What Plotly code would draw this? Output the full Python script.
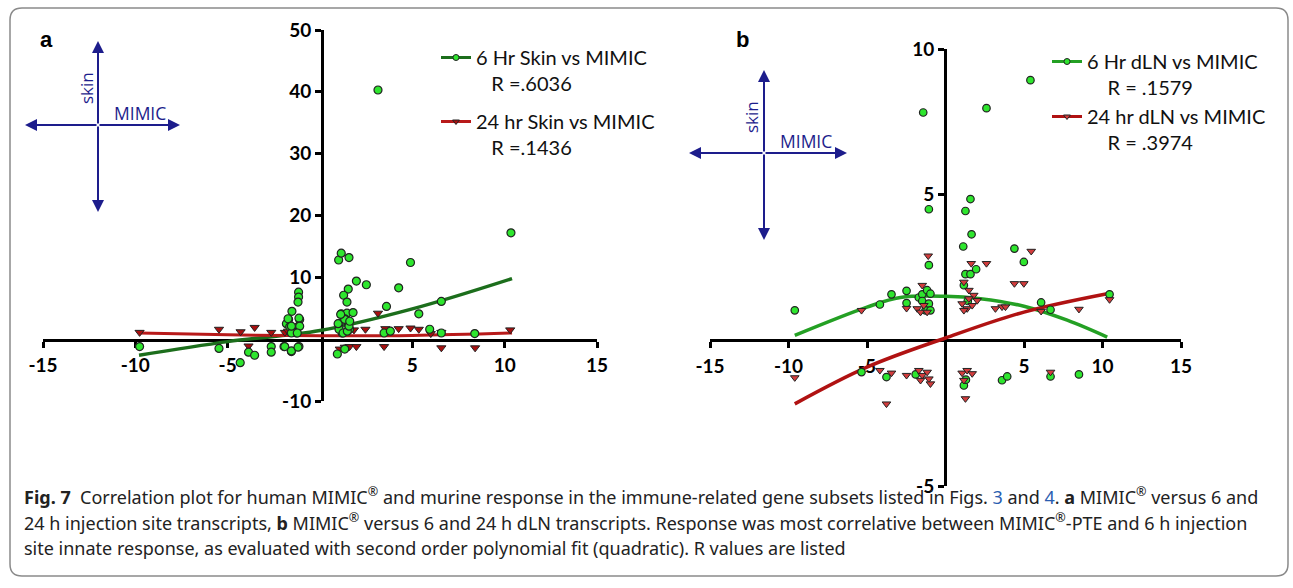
import plotly.graph_objects as go

W, H = 1293, 588

# ---------------- Panel a data (MIMIC vs skin) ----------------
a6_x = [-9.77, -5.47, -4.32, -3.87, -3.54, -2.64, -2.64, -1.95, -1.55, -1.14, -1.91, -1.55, -1.19,
        -1.16, -1.16, -1.19, -1.52, -1.70, -1.82, -1.64, -1.10, -1.16, -1.27, -1.55, -1.73, -1.55, -1.14, -1.10, -1.23,
        1.01, 1.15, 1.57, 1.97, 2.51, 1.53, 1.28, 1.46, 1.15, 1.46, 1.79, 1.03, 1.35, 1.55, 1.20, 1.60, 1.03,
        0.98, 1.25, 1.48, 1.57, 1.34, 1.12, 1.61, 0.94, 1.34,
        3.14, 4.90, 4.26, 3.60, 5.35, 5.94, 3.47, 3.81, 6.57, 6.57, 8.38, 10.34]
a6_y = [-1.2, -1.5, -3.8, -2.1, -2.6, -1.2, -2.1, -1.2, -2.0, -1.2, -1.2, -1.9, -1.3,
        7.6, 6.8, 6.0, 4.5, 3.2, 2.5, 2.0, 3.2, 2.1, 1.0, 1.0, 3.3, 2.1, 3.4, 2.1, 1.0,
        12.8, 13.9, 13.2, 9.4, 8.8, 8.1, 7.1, 6.0, 4.1, 4.2, 4.3, 2.5, 3.3, 2.4, 1.0, 1.6, 1.6,
        2.5, 1.0, 1.3, 2.1, 3.2, 4.0, 2.9, -2.4, -1.6,
        40.3, 12.4, 8.3, 5.3, 4.1, 1.6, 1.0, 1.3, 6.1, 1.0, 0.9, 17.2]

a24_x = [-9.77, -5.47, -4.30, -3.54, -2.64, -3.87, -1.90, -1.73, -1.40,
         1.84, 2.46, 3.14, 3.54, 4.26, 4.90, 5.35, 6.00, 6.57, 10.30,
         1.07, 1.34, 1.60, 1.97, 3.47, 6.57, 8.40]
a24_y = [1.1, 1.6, 1.2, 1.9, 1.1, -1.1, 1.1, 1.3, 1.5,
         1.5, 1.6, 4.2, 1.7, 1.7, 1.8, 1.6, 0.9, 1.1, 1.5,
         -1.6, -1.3, -1.2, -1.2, -1.2, -1.4, -1.4]

fitA_x = [-9.8, -5.0, 0.0, 5.0, 10.4]
fitA6_y = [-2.6, -0.4, 1.4, 4.9, 9.8]
fitA24_y = [1.0, 0.7, 0.55, 0.6, 1.0]

# ---------------- Panel b data (MIMIC vs dLN) ----------------
b6_x = [-9.60, -4.18, -3.44, -2.48, -2.48, -1.42, -1.06, -1.06,
        -1.70, -1.48, -1.17, -0.96, -1.48, -1.06, -1.27, -0.96,
        1.59, 1.27, 1.66, 1.13, 1.27, 1.59, 1.95, 1.42, 1.17, 2.61, 5.41,
        4.39, 4.99, 6.09, 6.69, 10.45,
        -5.35, -3.76, -1.90, 1.17, 1.30, 3.60, 3.93, 6.69, 8.50]
b6_y = [1.03, 1.23, 1.58, 1.70, 1.28, 7.82, 4.50, 2.58,
        1.47, 1.58, 1.72, 1.60, 1.35, 1.26, 1.03, 1.03,
        4.85, 4.44, 3.64, 3.22, 2.27, 2.27, 2.44, 1.35, 1.89, 7.97, 8.93,
        3.15, 2.69, 1.30, 1.05, 1.58,
        -1.09, -1.26, -1.17, -1.55, -1.35, -1.37, -1.24, -1.24, -1.17]

b24_x = [-9.60, -5.35, -4.18, -3.76, -3.44, -2.48, -2.48, -1.10,
         -1.48, -1.80, -1.59, -1.38, -1.17,
         -1.70, -1.48, -1.17, -1.06, -0.96, -1.59,
         1.64, 2.61, 1.17, 1.49, 1.80, 1.06, 1.38, 1.70, 2.02, 1.17, 1.49,
         1.27, 1.06, 1.38, 1.70, 1.17,
         3.18, 3.60, 3.82, 5.46, 4.39, 4.99, 6.09, 8.50, 10.45, 6.69]
b24_y = [-1.28, 1.03, -1.03, -2.18, -1.12, 1.10, -1.20, 2.90,
         1.89, 1.09, 0.97, 1.20, 0.97,
         -1.03, -1.20, -1.09, -1.32, -1.49, -1.37,
         2.64, 2.64, 2.00, 1.72, 1.55, 1.26, 1.09, 1.20, 1.37, 1.03, 1.43,
         -2.00, -1.12, -1.03, -1.14, -1.37,
         1.09, 1.15, 1.15, 3.06, 1.95, 1.95, 1.00, 1.07, 1.40, -1.09]

fitB6_x = [-9.6, -5.0, -2.87, 0.0, 2.23, 5.0, 7.75, 10.3]
fitB6_y = [0.17, 1.14, 1.47, 1.51, 1.43, 1.17, 0.69, 0.11]
fitB24_x = [-9.6, -5.0, 0.0, 5.0, 10.3]
fitB24_y = [-2.18, -0.92, 0.08, 0.97, 1.6]

x_ticks = [-15, -10, -5, 5, 10, 15]
x_tick_text = ["-15", "-10", "-5", "5", "10", "15"]
a_y_ticks = [-10, 10, 20, 30, 40, 50]
a_y_tick_text = ["-10", "10", "20", "30", "40", "50"]
b_y_ticks = [-5, 5, 10]
b_y_tick_text = ["-5", "5", "10"]

legend_a = ["6 Hr Skin vs MIMIC", "24 hr Skin vs MIMIC"]
r_a = ["R =.6036", "R =.1436"]
legend_b = ["6 Hr dLN vs MIMIC", "24 hr dLN vs MIMIC"]
r_b = ["R = .1579", "R = .3974"]

GREEN_FILL = "#2ee62e"
RED_A = "#a80f0f"
RED_B = "#d23c3c"
GREEN_LINE_A = "#1c6e1c"
RED_LINE_A = "#b81a1a"
GREEN_LINE_B = "#24a024"
RED_LINE_B = "#b01212"
NAVY = "#1d1d8c"

fig = go.Figure()

def px2x(p):
    return p / W

def py2y(p):
    return 1 - p / H

# ---- Panel a traces ----
fig.add_trace(go.Scatter(x=fitA_x, y=fitA6_y, mode="lines", line=dict(color=GREEN_LINE_A, width=3.5, shape="spline"),
                         showlegend=False, xaxis="x", yaxis="y"))
fig.add_trace(go.Scatter(x=fitA_x, y=fitA24_y, mode="lines", line=dict(color=RED_LINE_A, width=3, shape="spline"),
                         showlegend=False, xaxis="x", yaxis="y"))
fig.add_trace(go.Scatter(x=a24_x, y=a24_y, mode="markers",
                         marker=dict(symbol="triangle-down", size=8, color=RED_A, line=dict(color="#222", width=1)),
                         showlegend=False, xaxis="x", yaxis="y"))
fig.add_trace(go.Scatter(x=a6_x, y=a6_y, mode="markers",
                         marker=dict(symbol="circle", size=8, color=GREEN_FILL, line=dict(color="#222", width=1.2)),
                         showlegend=False, xaxis="x", yaxis="y"))

# ---- Panel b traces ----
fig.add_trace(go.Scatter(x=fitB6_x, y=fitB6_y, mode="lines", line=dict(color=GREEN_LINE_B, width=3.5, shape="spline"),
                         showlegend=False, xaxis="x2", yaxis="y2"))
fig.add_trace(go.Scatter(x=fitB24_x, y=fitB24_y, mode="lines", line=dict(color=RED_LINE_B, width=3.5, shape="spline"),
                         showlegend=False, xaxis="x2", yaxis="y2"))
fig.add_trace(go.Scatter(x=b6_x, y=b6_y, mode="markers",
                         marker=dict(symbol="circle", size=7.5, color=GREEN_FILL, line=dict(color="#222", width=1.2)),
                         showlegend=False, xaxis="x2", yaxis="y2"))
fig.add_trace(go.Scatter(x=b24_x, y=b24_y, mode="markers",
                         marker=dict(symbol="triangle-down", size=7.5, color=RED_B, line=dict(color="#222", width=1)),
                         showlegend=False, xaxis="x2", yaxis="y2"))

NB = "\u00a0"
# ---- Legend entries ----
for i, (nm, r, lc, mc, sym, leg, ind) in enumerate([
        (legend_a[0], r_a[0], GREEN_LINE_A, GREEN_FILL, "circle", "legend", 3),
        (legend_a[1], r_a[1], RED_LINE_A, RED_A, "triangle-down", "legend", 3),
        (legend_b[0], r_b[0], GREEN_LINE_B, GREEN_FILL, "circle", "legend2", 4),
        (legend_b[1], r_b[1], RED_LINE_B, RED_B, "triangle-down", "legend2", 4)]):
    fig.add_trace(go.Scatter(x=[None], y=[None], mode="lines+markers",
                             line=dict(color=lc, width=3),
                             marker=dict(symbol=sym, size=6, color=mc, line=dict(color="#222", width=1)),
                             name=nm + "<br>" + NB * ind + r, legend=leg, legendgroup="g%d" % i,
                             xaxis="x" if leg == "legend" else "x2",
                             yaxis="y" if leg == "legend" else "y2"))

tickfont = dict(family="Lato", size=19, color="black", weight="bold")
axis_common = dict(showline=True, linewidth=3, linecolor="black", ticks="outside", ticklen=6, tickwidth=2.5,
                   tickcolor="black", showgrid=False, zeroline=False, tickfont=tickfont, layer="below traces",
                   fixedrange=True)

legend_common = dict(font=dict(family="Lato", size=20, color="#111"), bgcolor="rgba(0,0,0,0)",
                     borderwidth=0, valign="top", traceorder="grouped",
                     xanchor="left", yanchor="top", itemwidth=30)

fig.update_layout(
    width=W, height=H, margin=dict(l=0, r=0, t=0, b=0, autoexpand=False),
    paper_bgcolor="white", plot_bgcolor="rgba(0,0,0,0)",
    xaxis=dict(domain=[px2x(43), px2x(597)], range=[-15, 15], anchor="free", position=py2y(339.5),
               tickvals=x_ticks, ticktext=x_tick_text, ticklabelstandoff=2, **axis_common),
    yaxis=dict(domain=[py2y(401), py2y(30)], range=[-10, 50], anchor="free", position=px2x(322),
               tickvals=a_y_ticks, ticktext=a_y_tick_text, **axis_common),
    xaxis2=dict(domain=[px2x(710), px2x(1181)], range=[-15, 15], anchor="free", position=py2y(340),
                tickvals=x_ticks, ticktext=x_tick_text, ticklabelstandoff=2, **axis_common),
    yaxis2=dict(domain=[py2y(486), py2y(49)], range=[-5, 10], anchor="free", position=px2x(945),
                tickvals=b_y_ticks, ticktext=b_y_tick_text, **axis_common),
    legend=dict(x=px2x(436), y=py2y(38), tracegroupgap=9, **legend_common),
    legend2=dict(x=px2x(1047), y=py2y(42), tracegroupgap=0, **legend_common),
    showlegend=True,
)

# ---- Compass decorations ----
def compass(cx, cy, top, bottom, left, right, skin_xy, mimic_xy, letter_xy, letter):
    anns = []
    for tx, ty in [(cx, top), (cx, bottom), (left, cy), (right, cy)]:
        anns.append(dict(x=px2x(tx), y=py2y(ty), xref="paper", yref="paper", ax=cx - tx, ay=cy - ty,
                         axref="pixel", ayref="pixel", showarrow=True, arrowhead=2, arrowsize=1.2,
                         arrowwidth=2, arrowcolor=NAVY, text="", standoff=0, startstandoff=0))
    anns.append(dict(x=px2x(skin_xy[0]), y=py2y(skin_xy[1]), xref="paper", yref="paper", text="skin",
                     xanchor="center", yanchor="middle",
                     textangle=-90, showarrow=False, font=dict(family="Open Sans", size=17, color=NAVY)))
    anns.append(dict(x=px2x(mimic_xy[0]), y=py2y(mimic_xy[1]), xref="paper", yref="paper", text="MIMIC",
                     xanchor="center", yanchor="middle",
                     showarrow=False, font=dict(family="Open Sans", size=17.5, color=NAVY)))
    anns.append(dict(x=px2x(letter_xy[0]), y=py2y(letter_xy[1]), xref="paper", yref="paper", text="<b>%s</b>" % letter,
                     xanchor="center", yanchor="middle",
                     showarrow=False, font=dict(family="Liberation Sans", size=22, color="black")))
    return anns

annotations = []
annotations += compass(98, 125, 41, 212, 25, 180, (87, 88), (140, 113), (46, 40), "a")
annotations += compass(764, 153, 70, 240, 689, 847, (751, 117), (806, 141), (742, 40), "b")

# ---- Caption ----
cap_font = dict(family="Noto Sans", size=18, color="#222")
cap_lines = [
    "<b>Fig. 7</b>  Correlation plot for human MIMIC<sup>®</sup> and murine response in the immune-related gene subsets listed in Figs. "
    "<span style='color:#2a5db0'>3</span> and <span style='color:#2a5db0'>4</span>. <b>a</b> MIMIC<sup>®</sup> versus 6 and",
    "24 h injection site transcripts, <b>b</b> MIMIC<sup>®</sup> versus 6 and 24 h dLN transcripts. Response was most correlative between MIMIC<sup>®</sup>-PTE and 6 h injection",
    "site innate response, as evaluated with second order polynomial fit (quadratic). R values are listed",
]
for ln, yy in zip(cap_lines, [496, 522, 548]):
    annotations.append(dict(x=px2x(22), y=py2y(yy), xref="paper", yref="paper", xanchor="left", yanchor="middle",
                            text=ln, showarrow=False, font=cap_font, align="left"))

fig.update_layout(annotations=annotations)

# ---- Rounded border ----
x0, x1, y0, y1, r = 10, 1288, 8, 576, 12
def P(x, y):
    return "%f,%f" % (px2x(x), py2y(y))
path = ("M " + P(x0 + r, y0) + " L " + P(x1 - r, y0) + " Q " + P(x1, y0) + " " + P(x1, y0 + r) +
        " L " + P(x1, y1 - r) + " Q " + P(x1, y1) + " " + P(x1 - r, y1) +
        " L " + P(x0 + r, y1) + " Q " + P(x0, y1) + " " + P(x0, y1 - r) +
        " L " + P(x0, y0 + r) + " Q " + P(x0, y0) + " " + P(x0 + r, y0) + " Z")
fig.add_shape(type="path", path=path, xref="paper", yref="paper", line=dict(color="#8a8a8a", width=1.5),
              fillcolor="rgba(0,0,0,0)", layer="below")

fig.write_html("out.html")
